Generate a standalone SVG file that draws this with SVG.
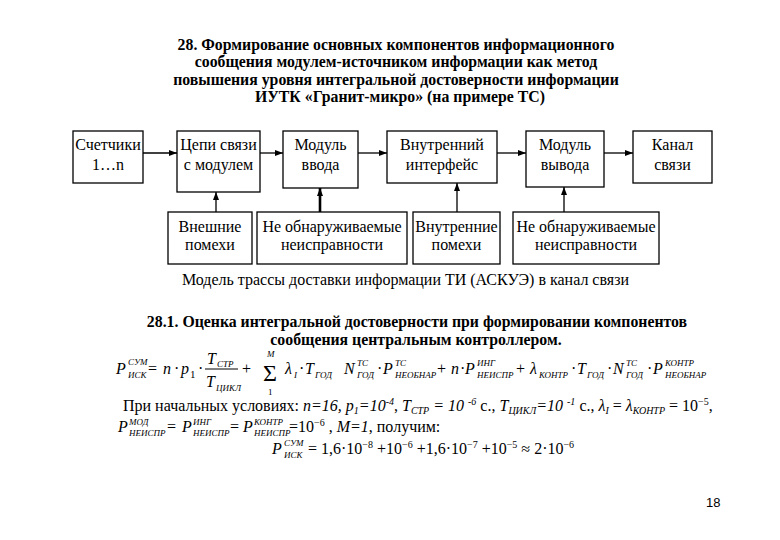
<svg xmlns="http://www.w3.org/2000/svg" width="780" height="540" viewBox="0 0 780 540">
<defs>
<marker id="ah" viewBox="0 0 8 6" refX="8" refY="3" markerWidth="8" markerHeight="6" orient="auto" markerUnits="userSpaceOnUse"><path d="M0,0 L8,3 L0,6 z" fill="#000"/></marker>
<style>
.box{fill:#fff;stroke:#000;stroke-width:1.3}
.bt{font-family:"Liberation Serif","Times New Roman",serif;font-size:16px;text-anchor:middle;fill:#000}
.h{font-family:"Liberation Serif","Times New Roman",serif;font-size:15.8px;font-weight:bold;text-anchor:middle;fill:#000}
.r{font-family:"Liberation Serif","Times New Roman",serif;font-size:16px;fill:#000}
.m{font-family:"Liberation Serif","Times New Roman",serif;font-size:16px;font-style:italic;fill:#000}
.u{font-family:"Liberation Serif","Times New Roman",serif;font-size:16px;fill:#000}
.s{font-family:"Liberation Serif","Times New Roman",serif;font-size:9px;font-style:italic;fill:#000}
.conn line{stroke:#000;stroke-width:1.3;marker-end:url(#ah)}
</style>
</defs>
<rect x="0" y="0" width="780" height="540" fill="#fff"/>

<g id="title">
<text class="h" x="396" y="50">28. Формирование основных компонентов информационного</text>
<text class="h" x="396" y="67">сообщения модулем-источником информации как метод</text>
<text class="h" x="396" y="85">повышения уровня интегральной достоверности информации</text>
<text class="h" x="400" y="102">ИУТК «Гранит-микро» (на примере ТС)</text>
</g>

<g id="n-counters"><rect class="box" x="73" y="131" width="70" height="52"/><text class="bt" x="108" y="150">Счетчики</text><text class="bt" x="108" y="170">1…n</text></g>
<g id="n-chain"><rect class="box" x="177" y="131" width="83" height="61"/><text class="bt" x="218.5" y="150">Цепи связи</text><text class="bt" x="218.5" y="170">с модулем</text></g>
<g id="n-input"><rect class="box" x="283" y="131" width="75" height="57"/><text class="bt" x="320.5" y="150">Модуль</text><text class="bt" x="320.5" y="170">ввода</text></g>
<g id="n-iface"><rect class="box" x="387" y="131" width="110" height="52"/><text class="bt" x="442" y="150">Внутренний</text><text class="bt" x="442" y="170">интерфейс</text></g>
<g id="n-output"><rect class="box" x="526" y="131" width="78" height="56"/><text class="bt" x="565" y="150">Модуль</text><text class="bt" x="565" y="170">вывода</text></g>
<g id="n-channel"><rect class="box" x="633" y="131" width="79" height="52"/><text class="bt" x="672.5" y="150">Канал</text><text class="bt" x="672.5" y="170">связи</text></g>

<g id="n-extnoise"><rect class="box" x="168" y="212" width="84" height="52"/><text class="bt" x="210" y="232">Внешние</text><text class="bt" x="210" y="250">помехи</text></g>
<g id="n-fault1"><rect class="box" x="257" y="212" width="150" height="52"/><text class="bt" x="332" y="232">Не обнаруживаемые</text><text class="bt" x="332" y="250">неисправности</text></g>
<g id="n-intnoise"><rect class="box" x="413" y="212" width="87" height="52"/><text class="bt" x="456.5" y="232">Внутренние</text><text class="bt" x="456.5" y="250">помехи</text></g>
<g id="n-fault2"><rect class="box" x="513" y="212" width="146" height="52"/><text class="bt" x="586" y="232">Не обнаруживаемые</text><text class="bt" x="586" y="250">неисправности</text></g>

<g id="connectors" class="conn">
<line x1="143" y1="153" x2="177" y2="153"/>
<line x1="260" y1="153" x2="283" y2="153"/>
<line x1="358" y1="153" x2="387" y2="153"/>
<line x1="497" y1="153" x2="526" y2="153"/>
<line x1="604" y1="153" x2="633" y2="153"/>
<line x1="216" y1="212" x2="216" y2="192"/>
<line x1="320" y1="212" x2="320" y2="188" style="stroke-width:2.6"/>
<line x1="457" y1="212" x2="457" y2="183"/>
<line x1="564" y1="212" x2="564" y2="187"/>
</g>

<text class="r" x="405.5" y="285" text-anchor="middle">Модель трассы доставки информации ТИ (АСКУЭ) в канал связи</text>

<g id="heading2">
<text class="h" x="417" y="327">28.1. Оценка интегральной достоверности при формировании компонентов</text>
<text class="h" x="416" y="345">сообщения центральным контроллером.</text>
</g>

<g id="formula">
<text class="m" x="116" y="374">P</text><text class="s" x="128" y="365">СУМ</text><text class="s" x="128" y="378">ИСК</text>
<text class="u" x="148" y="374">=</text>
<text class="m" x="163" y="374">n</text><text class="u" x="174" y="374">·</text>
<text class="m" x="181" y="374">p</text><text class="u" x="190" y="378" style="font-size:11px">1</text><text class="u" x="198" y="374">·</text>
<text class="m" x="207" y="364">T</text><text class="s" x="217" y="367">СТР</text>
<line x1="205" y1="369" x2="238" y2="369" stroke="#000" stroke-width="1"/>
<text class="m" x="206" y="387">T</text><text class="s" x="216" y="391">ЦИКЛ</text>
<text class="u" x="242" y="374">+</text>
<text class="u" x="263" y="381" style="font-size:24px">Σ</text>
<text class="s" x="267" y="357">M</text><text class="u" x="268" y="394.5" style="font-size:9px">1</text>
<text class="m" x="285" y="374">λ</text><text class="s" x="294" y="378">I</text><text class="u" x="299" y="374">·</text>
<text class="m" x="305" y="374">T</text><text class="s" x="315" y="378">ГОД</text>
<text class="m" x="344" y="374">N</text><text class="s" x="357" y="366">ТС</text><text class="s" x="357" y="378">ГОД</text>
<text class="u" x="377" y="374">·</text>
<text class="m" x="383" y="374">P</text><text class="s" x="395" y="366">ТС</text><text class="s" x="395" y="378">НЕОБНАР</text>
<text class="u" x="437" y="374">+</text>
<text class="m" x="451" y="374">n</text><text class="u" x="460" y="374">·</text>
<text class="m" x="465" y="374">P</text><text class="s" x="477" y="366">ИНГ</text><text class="s" x="477" y="378">НЕИСПР</text>
<text class="u" x="516" y="374">+</text>
<text class="m" x="530" y="374">λ</text><text class="s" x="539" y="378">КОНТР</text><text class="u" x="571" y="374">·</text>
<text class="m" x="577" y="374">T</text><text class="s" x="587" y="378">ГОД</text><text class="u" x="607" y="374">·</text>
<text class="m" x="613" y="374">N</text><text class="s" x="626" y="366">ТС</text><text class="s" x="626" y="378">ГОД</text><text class="u" x="647" y="374">·</text>
<text class="m" x="653" y="374">P</text><text class="s" x="665" y="366">КОНТР</text><text class="s" x="665" y="378">НЕОБНАР</text>
</g>

<g id="conditions">
<text class="r" x="123" y="411">При начальных условиях: <tspan font-style="italic">n=16,  p</tspan><tspan font-style="italic" font-size="10" dy="3">1</tspan><tspan font-style="italic" dy="-3">=10</tspan><tspan font-style="italic" font-size="10" dy="-6">-4</tspan><tspan dy="6">, </tspan><tspan font-style="italic">T</tspan><tspan font-style="italic" font-size="10" dy="3">СТР</tspan><tspan dy="-3" font-style="italic"> = 10 </tspan><tspan font-style="italic" font-size="10" dy="-6">-6</tspan><tspan dy="6"> с., </tspan><tspan font-style="italic">T</tspan><tspan font-style="italic" font-size="10" dy="3">ЦИКЛ</tspan><tspan dy="-3" font-style="italic">=10 </tspan><tspan font-style="italic" font-size="10" dy="-6">-1</tspan><tspan dy="6"> с., </tspan><tspan font-style="italic">λ</tspan><tspan font-style="italic" font-size="10" dy="3">I</tspan><tspan dy="-3"> = </tspan><tspan font-style="italic">λ</tspan><tspan font-style="italic" font-size="10" dy="3">КОНТР</tspan><tspan dy="-3"> = 10</tspan><tspan font-size="10" dy="-6">−5</tspan><tspan dy="6">,</tspan></text>

<text class="m" x="118" y="432">P</text><text class="s" x="129" y="425">МОД</text><text class="s" x="129" y="436">НЕИСПР</text>
<text class="u" x="167" y="432">=</text>
<text class="m" x="182" y="432">P</text><text class="s" x="193" y="425">ИНГ</text><text class="s" x="193" y="436">НЕИСПР</text>
<text class="u" x="230" y="432">=</text>
<text class="m" x="243" y="432">P</text><text class="s" x="254" y="425">КОНТР</text><text class="s" x="254" y="436">НЕИСПР</text>
<text class="r" x="289" y="432">=10<tspan font-size="10" dy="-6">−6</tspan><tspan dy="6"> , </tspan><tspan font-style="italic">M=1</tspan>, получим:</text>

<text class="m" x="272" y="454">P</text><text class="s" x="284" y="446">СУМ</text><text class="s" x="284" y="458">ИСК</text>
<text class="r" x="308" y="454">= 1,6·10<tspan font-size="10" dy="-6">−8</tspan><tspan dy="6"> +10</tspan><tspan font-size="10" dy="-6">−6</tspan><tspan dy="6"> +1,6·10</tspan><tspan font-size="10" dy="-6">−7</tspan><tspan dy="6"> +10</tspan><tspan font-size="10" dy="-6">−5</tspan><tspan dy="6"> ≈ 2·10</tspan><tspan font-size="10" dy="-6">−6</tspan></text>
</g>

<text x="706" y="507" font-family="Liberation Sans, Arial, sans-serif" font-size="13" fill="#000">18</text>
</svg>
